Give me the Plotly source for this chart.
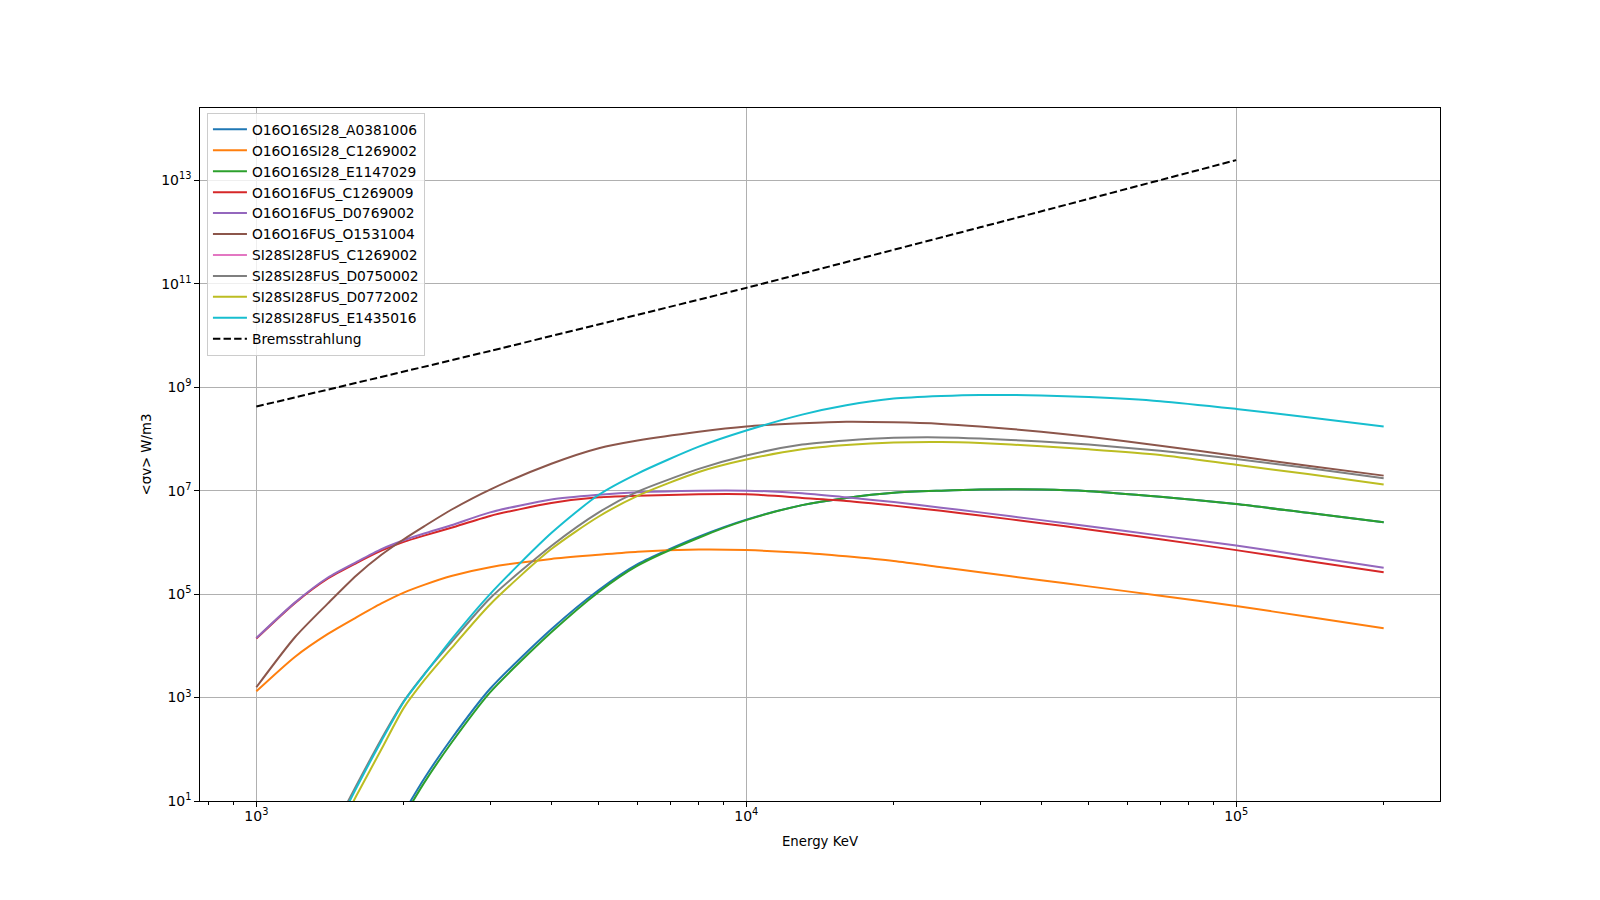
import plotly.graph_objects as go

# Energies (keV) at which curves were read
energy_kev = [1000, 1200, 1400, 1600, 1800, 2000, 2200, 2500, 3000, 4000, 5000, 6000, 8000,
              10000, 13000, 16000, 20000, 25000, 30000, 40000, 50000, 70000, 100000,
              140000, 200000]

O16O16SI28_A0381006 = [None, None, None, None, None, 6.0e0, 2.69e1, 1.58e2, 1.48e3, 2.09e4,
                       1.20e5, 3.80e5, 1.29e6, 2.75e6, 5.25e6, 7.24e6, 9.12e6, 1.00e7, 1.05e7,
                       1.05e7, 9.77e6, 7.59e6, 5.50e6, 3.72e6, 2.45e6]
O16O16SI28_C1269002 = [1.32e3, 6.17e3, 1.70e4, 3.55e4, 6.61e4, 1.07e5, 1.51e5, 2.24e5, 3.31e5,
                       4.79e5, 5.75e5, 6.61e5, 7.24e5, 7.08e5, 6.31e5, 5.37e5, 4.37e5, 3.31e5,
                       2.63e5, 1.86e5, 1.41e5, 9.33e4, 5.89e4, 3.63e4, 2.19e4]
O16O16SI28_E1147029 = [None, None, None, None, None, 5.0e0, 2.24e1, 1.32e2, 1.26e3, 1.82e4,
                       1.10e5, 3.55e5, 1.23e6, 2.69e6, 5.25e6, 7.24e6, 9.12e6, 1.00e7, 1.05e7,
                       1.05e7, 9.77e6, 7.59e6, 5.50e6, 3.72e6, 2.45e6]
O16O16FUS_C1269009 = [1.38e4, 6.76e4, 2.00e5, 3.98e5, 6.92e5, 1.02e6, 1.35e6, 1.91e6, 3.24e6,
                      5.75e6, 7.41e6, 7.94e6, 8.51e6, 8.51e6, 7.24e6, 6.31e6, 5.13e6, 4.07e6,
                      3.31e6, 2.34e6, 1.78e6, 1.15e6, 7.08e5, 4.37e5, 2.63e5]
O16O16FUS_D0769002 = [1.41e4, 6.92e4, 2.09e5, 4.17e5, 7.41e5, 1.10e6, 1.48e6, 2.14e6, 3.80e6,
                      6.76e6, 8.32e6, 9.33e6, 1.00e7, 1.00e7, 8.91e6, 7.41e6, 6.03e6, 4.68e6,
                      3.80e6, 2.69e6, 2.04e6, 1.35e6, 8.71e5, 5.37e5, 3.24e5]
O16O16FUS_O1531004 = [1.58e3, 1.48e4, 6.61e4, 2.29e5, 5.75e5, 1.15e6, 2.04e6, 4.27e6, 1.05e7,
                      3.31e7, 6.61e7, 9.33e7, 1.38e8, 1.74e8, 2.00e8, 2.14e8, 2.09e8, 1.95e8,
                      1.74e8, 1.38e8, 1.10e8, 7.41e7, 4.68e7, 3.02e7, 1.95e7]
SI28SI28FUS_C1269002 = [None] * 25   # not visible inside the plotted range
SI28SI28FUS_D0750002 = [None, None, 1.78e0, 2.00e1, 1.58e2, 8.51e2, 2.82e3, 1.17e4, 8.32e4,
                        8.51e5, 3.80e6, 9.55e6, 2.63e7, 4.79e7, 7.76e7, 9.33e7, 1.05e8, 1.07e8,
                        1.02e8, 8.91e7, 7.76e7, 5.89e7, 4.07e7, 2.75e7, 1.74e7]
SI28SI28FUS_D0772002 = [None, None, 1.12e0, 1.26e1, 1.00e2, 6.31e2, 2.14e3, 8.91e3, 6.31e4,
                        7.41e5, 3.16e6, 7.94e6, 2.29e7, 3.98e7, 6.31e7, 7.59e7, 8.51e7, 8.71e7,
                        8.32e7, 7.24e7, 6.31e7, 4.90e7, 3.16e7, 2.09e7, 1.32e7]
SI28SI28FUS_E1435016 = [None, None, 1.45e0, 1.78e1, 1.45e2, 8.32e2, 2.75e3, 1.32e4, 1.00e5,
                        1.51e6, 8.32e6, 2.14e7, 7.08e7, 1.45e8, 2.95e8, 4.47e8, 6.03e8, 6.76e8,
                        7.08e8, 6.92e8, 6.46e8, 5.37e8, 3.80e8, 2.63e8, 1.74e8]

brems_energy_kev = [1000, 3000, 10000, 30000, 100000]
bremsstrahlung = [4.22e8, 5.01e9, 8.32e10, 1.23e12, 2.45e13]

# tick positions / labels
x_tickvals = [1e3, 1e4, 1e5]
x_ticktext = ["10<sup>3</sup>", "10<sup>4</sup>", "10<sup>5</sup>"]
y_tickvals = [1e1, 1e3, 1e5, 1e7, 1e9, 1e11, 1e13]
y_ticktext = ["10<sup>1</sup>", "10<sup>3</sup>", "10<sup>5</sup>", "10<sup>7</sup>",
              "10<sup>9</sup>", "10<sup>11</sup>", "10<sup>13</sup>"]

series = [
    ("O16O16SI28_A0381006", O16O16SI28_A0381006, "#1f77b4"),
    ("O16O16SI28_C1269002", O16O16SI28_C1269002, "#ff7f0e"),
    ("O16O16SI28_E1147029", O16O16SI28_E1147029, "#2ca02c"),
    ("O16O16FUS_C1269009", O16O16FUS_C1269009, "#d62728"),
    ("O16O16FUS_D0769002", O16O16FUS_D0769002, "#9467bd"),
    ("O16O16FUS_O1531004", O16O16FUS_O1531004, "#8c564b"),
    ("SI28SI28FUS_C1269002", SI28SI28FUS_C1269002, "#e377c2"),
    ("SI28SI28FUS_D0750002", SI28SI28FUS_D0750002, "#7f7f7f"),
    ("SI28SI28FUS_D0772002", SI28SI28FUS_D0772002, "#bcbd22"),
    ("SI28SI28FUS_E1435016", SI28SI28FUS_E1435016, "#17becf"),
]

FONT = "DejaVu Sans"
fig = go.Figure()
for name, vals, col in series:
    fig.add_trace(go.Scatter(x=energy_kev, y=vals, name=name, mode="lines",
                             line=dict(color=col, width=2, shape="spline", smoothing=0.7)))
fig.add_trace(go.Scatter(x=brems_energy_kev, y=bremsstrahlung, name="Bremsstrahlung",
                         mode="lines",
                         line=dict(color="black", width=2, dash="7.4px,3.2px",
                                   shape="spline", smoothing=0.5)))

axis_common = dict(
    type="log", showline=True, linecolor="black", linewidth=1.1, mirror=True,
    ticks="outside", ticklen=4.7, tickwidth=1.1, tickcolor="black",
    showgrid=True, gridcolor="#b0b0b0", gridwidth=1.1, zeroline=False,
    tickmode="array",
    tickfont=dict(family=FONT, size=14, color="black"),
    automargin=False,
)

fig.update_layout(
    width=1600, height=900,
    paper_bgcolor="white", plot_bgcolor="white",
    margin=dict(l=200, r=160, t=108, b=99),
    font=dict(family=FONT, size=13.3, color="black"),
    showlegend=True,
    legend=dict(x=0.0056, y=0.993, xanchor="left", yanchor="top",
                bgcolor="rgba(255,255,255,0.8)", bordercolor="#cccccc", borderwidth=1,
                itemwidth=34,
                font=dict(family=FONT, size=13.8, color="black")),
    xaxis=dict(axis_common, range=[2.885, 5.416],
               tickvals=x_tickvals, ticktext=x_ticktext, ticklabelstandoff=-3,
               title=dict(text="Energy KeV", standoff=14,
                          font=dict(family=FONT, size=13.3, color="black")),
               minor=dict(ticks="outside", ticklen=2.7, tickwidth=0.8, tickcolor="black",
                          showgrid=False, dtick="D1")),
    yaxis=dict(axis_common, range=[1, 14.397],
               tickvals=y_tickvals, ticktext=y_ticktext,
               title=dict(text="&lt;σv&gt; W/m3", standoff=6,
                          font=dict(family=FONT, size=13.3, color="black"))),
)

fig.write_html("out.html", config={"displayModeBar": False})
